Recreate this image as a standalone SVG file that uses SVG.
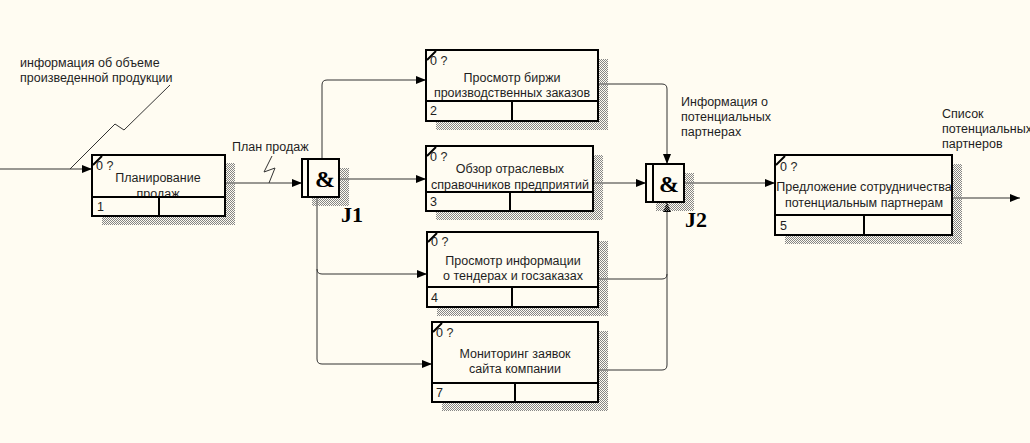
<svg xmlns="http://www.w3.org/2000/svg" width="1030" height="443" viewBox="0 0 1030 443">
<defs>
<pattern id="hatch" width="2" height="2" patternUnits="userSpaceOnUse">
<rect x="0" y="0" width="1" height="1" fill="#858585"/>
<rect x="1" y="1" width="1" height="1" fill="#858585"/>
</pattern>
<marker id="arr" viewBox="0 0 10 8" refX="10" refY="4" markerWidth="10" markerHeight="8" markerUnits="userSpaceOnUse" orient="auto">
<path d="M0,0 L10,4 L0,8 Z" fill="#000"/>
</marker>
<style>
.bg{fill:#fffcf2}
.shadow{fill:url(#hatch)}
.box{fill:#fffcf2;stroke:#000;stroke-width:2}
.div{stroke:#000;stroke-width:2;fill:none}
.tick{stroke:#000;stroke-width:2}
.t{font-family:"Liberation Sans",Arial,sans-serif;font-size:12.5px;fill:#1e1e1e}
.c{text-anchor:middle}
.amp{font-family:"Liberation Serif","Times New Roman",serif;font-weight:bold;font-size:24px;fill:#000;text-anchor:middle}
.jl{font-family:"Liberation Serif","Times New Roman",serif;font-weight:bold;font-size:22px;fill:#000}
.con{fill:none;stroke:#333;stroke-width:1}
.arw{marker-end:url(#arr)}
</style>
</defs>
<rect class="bg" x="0" y="0" width="1030" height="443"/>

<g id="connectors">
<path class="con arw" d="M0,169 H92"/>
<path class="con" d="M70,169 L115,124 L124,130 L170,85"/>
<path class="con arw" d="M225,183 H302"/>
<path class="con" d="M269,183 L275,168 L264,172 L272,156"/>
<path class="con arw" d="M322,159 V85 Q322,80 327,80 H426"/>
<path class="con arw" d="M339,179 H426"/>
<path class="con arw" d="M317,197 V269 Q317,274 322,274 H427"/>
<path class="con arw" d="M317,269 V359 Q317,364 322,364 H432"/>
<path class="con arw" d="M598,84 H662 Q667,84 667,89 V164"/>
<path class="con arw" d="M593,183 H646"/>
<path class="con arw" d="M598,279 H662 Q667,279 667,274 V202"/>
<path class="con" d="M598,370 H662 Q667,370 667,365 V274"/>
<path class="con arw" d="M685,183 H775"/>
<path class="con arw" d="M952,198 H1020"/>
</g>

<g id="labels">
<text class="t" x="20" y="67">информация об объеме</text>
<text class="t" x="20" y="82">произведенной продукции</text>
<text class="t" x="232" y="151">План продаж</text>
<text class="t" x="681" y="106">Информация о</text>
<text class="t" x="681" y="121">потенциальных</text>
<text class="t" x="681" y="136">партнерах</text>
<text class="t" x="942" y="118">Список</text>
<text class="t" x="942" y="133">потенциальных</text>
<text class="t" x="942" y="148">партнеров</text>
</g>

<g id="node1">
<rect class="shadow" x="102" y="163" width="133" height="62"/>
<rect class="box" x="92" y="155" width="133" height="61"/>
<line class="tick" x1="93" y1="165" x2="102" y2="156"/>
<text class="t" x="96" y="170">0 ?</text>
<text class="t c" x="158" y="182">Планирование</text>
<text class="t c" x="158" y="198">продаж</text>
<rect x="93" y="198" width="131" height="17" fill="#fffcf2"/>
<path class="div" d="M92,197 H225 M159,197 V216"/>
<text class="t" x="97" y="211">1</text>
</g>

<g id="node2">
<rect class="shadow" x="436" y="59" width="172" height="71"/>
<rect class="box" x="426" y="50" width="172" height="71"/>
<line class="tick" x1="427" y1="60" x2="436" y2="51"/>
<text class="t" x="430" y="65">0 ?</text>
<text class="t c" x="512" y="82">Просмотр биржи</text>
<text class="t c" x="512" y="97">производственных заказов</text>
<path class="div" d="M426,101 H598 M512,101 V121"/>
<text class="t" x="430" y="115">2</text>
</g>

<g id="node3">
<rect class="shadow" x="436" y="155" width="167" height="65"/>
<rect class="box" x="426" y="146" width="167" height="65"/>
<line class="tick" x1="427" y1="156" x2="436" y2="147"/>
<text class="t" x="430" y="161">0 ?</text>
<text class="t c" x="510" y="173">Обзор отраслевых</text>
<text class="t c" x="510" y="189">справочников предприятий</text>
<path class="div" d="M426,192 H593 M510,192 V211"/>
<text class="t" x="430" y="206">3</text>
</g>

<g id="node4">
<rect class="shadow" x="437" y="241" width="171" height="75"/>
<rect class="box" x="427" y="232" width="171" height="75"/>
<line class="tick" x1="428" y1="242" x2="437" y2="233"/>
<text class="t" x="431" y="246">0 ?</text>
<text class="t c" x="513" y="265">Просмотр информации</text>
<text class="t c" x="513" y="280">о тендерах и госзаказах</text>
<path class="div" d="M427,287 H598 M512,287 V307"/>
<text class="t" x="431" y="302">4</text>
</g>

<g id="node7">
<rect class="shadow" x="442" y="331" width="166" height="80"/>
<rect class="box" x="432" y="322" width="166" height="80"/>
<line class="tick" x1="433" y1="332" x2="442" y2="323"/>
<text class="t" x="436" y="337">0 ?</text>
<text class="t c" x="515" y="358">Мониторинг заявок</text>
<text class="t c" x="515" y="373">сайта компании</text>
<path class="div" d="M432,383 H598 M515,383 V402"/>
<text class="t" x="436" y="397">7</text>
</g>

<g id="node5">
<rect class="shadow" x="785" y="164" width="177" height="80"/>
<rect class="box" x="775" y="155" width="177" height="80"/>
<line class="tick" x1="776" y1="165" x2="785" y2="156"/>
<text class="t" x="780" y="171">0 ?</text>
<text class="t c" x="864" y="191">Предложение сотрудничества</text>
<text class="t c" x="864" y="207">потенциальным партнерам</text>
<path class="div" d="M775,215 H952 M864,215 V235"/>
<text class="t" x="780" y="230">5</text>
</g>

<g id="J1">
<rect class="shadow" x="312" y="168" width="37" height="38"/>
<rect class="box" x="302" y="159" width="37" height="38"/>
<line class="div" x1="308" y1="159" x2="308" y2="197"/>
<text class="amp" x="325" y="187">&amp;</text>
<text class="jl" x="341" y="222">J1</text>
</g>

<g id="J2">
<rect class="shadow" x="656" y="173" width="38" height="38"/>
<rect class="box" x="646" y="164" width="38" height="38"/>
<line class="div" x1="653" y1="164" x2="653" y2="202"/>
<text class="amp" x="669" y="192">&amp;</text>
<text class="jl" x="685" y="227">J2</text>
</g>
</svg>
